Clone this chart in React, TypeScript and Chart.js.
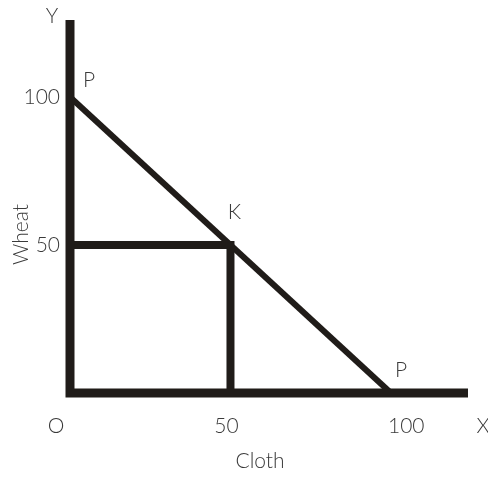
import React, { useEffect, useRef } from "react";
import { Chart, registerables } from "chart.js";

Chart.register(...registerables);

// Production possibility line: cloth (x) against wheat (y)
const clothValues = [0, 50, 100];
const wheatValues = [100, 50, 0];
const pointNames = ["P", "K", "P"];

// Guide lines dropped from K onto both axes
const guideCloth = [0, 50, 50];
const guideWheat = [50, 50, 0];

// Axis extents and tick labels
const xAxisMax = 124;
const yAxisMax = 126;
const xTicks = [50, 100];
const yTicks = [50, 100];
const originLabel = "O";
const xAxisLetter = "X";
const yAxisLetter = "Y";
const xTitle = "Cloth";
const yTitle = "Wheat";

const INK = "#201c19";
const TEXT = "#3a3a3a";
const FONT = "300 21px Lato, 'DejaVu Sans', sans-serif";

const toPoints = (xs: number[], ys: number[]) => xs.map((x, i) => ({ x, y: ys[i] }));

const labelPlugin = {
  id: "diagramLabels",
  afterDraw(chart: any) {
    const { ctx, scales } = chart;
    const xs = scales.x;
    const ys = scales.y;
    const x0 = xs.getPixelForValue(0);
    const y0 = ys.getPixelForValue(0);
    ctx.save();
    ctx.font = FONT;
    ctx.fillStyle = TEXT;
    ctx.textBaseline = "middle";

    // wheat ticks, right-aligned left of the axis
    ctx.textAlign = "right";
    yTicks.forEach((v) => ctx.fillText(String(v), x0 - 10, ys.getPixelForValue(v)));

    // cloth ticks below the axis
    const tickY = y0 + 33;
    xTicks.forEach((v) => {
      ctx.textAlign = v === 100 ? "left" : "center";
      ctx.fillText(String(v), xs.getPixelForValue(v) - (v === 100 ? 3 : 4), tickY);
    });
    ctx.textAlign = "center";
    ctx.fillText(originLabel, x0 - 14, tickY);
    ctx.fillText(xAxisLetter, xs.right + 15, tickY);
    ctx.fillText(yAxisLetter, x0 - 18, ys.top - 4);
    ctx.fillText(xTitle, (x0 + xs.right) / 2 - 9, y0 + 68);

    ctx.save();
    ctx.translate(x0 - 49, (ys.top + y0) / 2 + 28);
    ctx.rotate(-Math.PI / 2);
    ctx.fillText(yTitle, 0, 0);
    ctx.restore();

    // point names
    const offsets = [
      [19, -17],
      [4, -33],
      [10, -23],
    ];
    ctx.textAlign = "center";
    pointNames.forEach((name, i) => {
      const px = xs.getPixelForValue(clothValues[i]) + offsets[i][0];
      const py = ys.getPixelForValue(wheatValues[i]) + offsets[i][1];
      ctx.fillText(name, px, py);
    });
    ctx.restore();
  },
};

export default function App() {
  const canvasRef = useRef<HTMLCanvasElement | null>(null);

  useEffect(() => {
    if (!canvasRef.current) return;
    const lineStyle = {
      borderColor: INK,
      pointRadius: 0,
      showLine: true,
      fill: false,
      tension: 0,
      clip: false as any,
      borderJoinStyle: "miter" as CanvasLineJoin,
      borderCapStyle: "butt" as CanvasLineCap,
    };
    const chart = new Chart(canvasRef.current, {
      type: "scatter",
      data: {
        datasets: [
          {
            ...lineStyle,
            data: [
              { x: 0, y: yAxisMax },
              { x: 0, y: 0 },
              { x: xAxisMax, y: 0 },
            ],
            borderWidth: 9,
          },
          {
            ...lineStyle,
            data: toPoints(guideCloth, guideWheat),
            borderWidth: 8,
          },
          {
            ...lineStyle,
            data: toPoints([clothValues[0], clothValues[2]], [wheatValues[0], wheatValues[2]]),
            borderWidth: 6,
          },
        ],
      },
      options: {
        responsive: false,
        animation: false,
        layout: { padding: { left: 70, right: 20, top: 20, bottom: 85 } },
        plugins: { legend: { display: false }, tooltip: { enabled: false } },
        scales: {
          x: { type: "linear", min: 0, max: xAxisMax, display: false },
          y: { type: "linear", min: 0, max: yAxisMax, display: false },
        },
      },
      plugins: [labelPlugin],
    });
    return () => chart.destroy();
  }, []);

  return (
    <div style={{ position: "fixed", left: 0, top: 0, width: 488, height: 478, background: "#fff" }}>
      <canvas ref={canvasRef} width={488} height={478} style={{ width: 488, height: 478 }} />
    </div>
  );
}
